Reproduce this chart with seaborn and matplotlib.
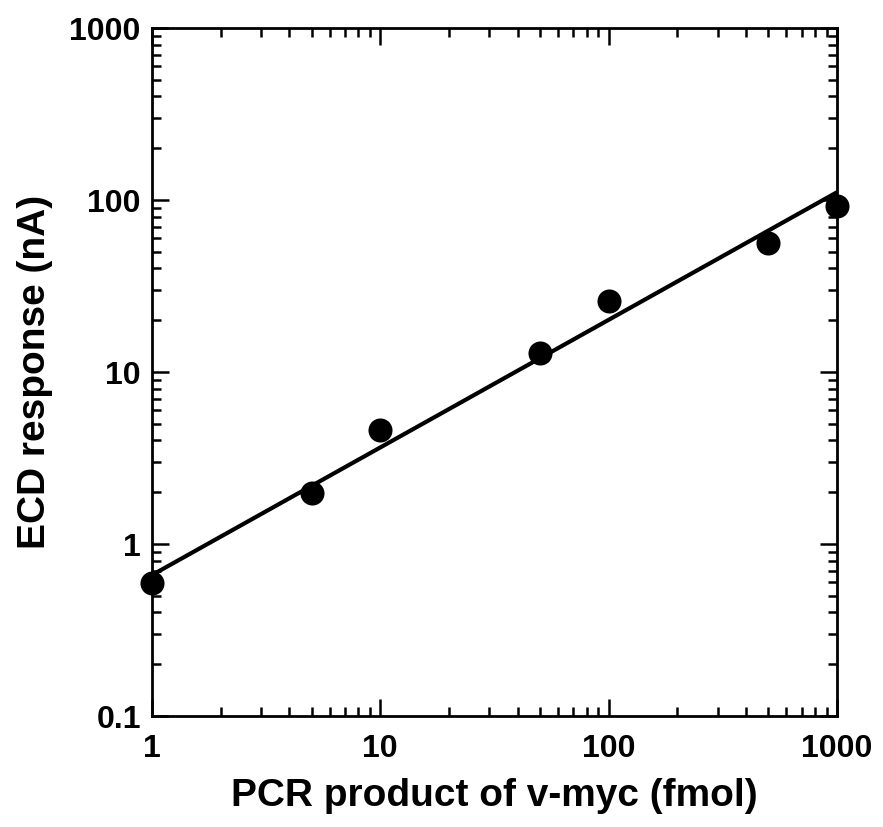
import numpy as np
import pandas as pd
import matplotlib
matplotlib.use("Agg")
import matplotlib.pyplot as plt
import seaborn as sns
from matplotlib.ticker import LogLocator, FixedLocator, FixedFormatter, NullFormatter

# Data
pcr_fmol = [1, 5, 10, 50, 100, 500, 1000]
ecd_nA = [0.59, 1.98, 4.6, 12.9, 25.9, 56, 92]
fit_x = [1, 1000]
fit_y = [0.66, 111]
x_ticks = [1, 10, 100, 1000]
x_labels = ["1", "10", "100", "1000"]
y_ticks = [0.1, 1, 10, 100, 1000]
y_labels = ["0.1", "1", "10", "100", "1000"]

sns.set_theme(style="ticks")
plt.rcParams['font.family'] = ['Liberation Sans', 'DejaVu Sans']
plt.rcParams['font.weight'] = 'bold'
plt.rcParams['text.color'] = 'black'
plt.rcParams['axes.labelcolor'] = 'black'
plt.rcParams['xtick.color'] = 'black'
plt.rcParams['ytick.color'] = 'black'
plt.rcParams['axes.edgecolor'] = 'black'

fig = plt.figure(figsize=(8.83, 8.27), dpi=100)
ax = fig.add_axes([0.1721, 0.1342, 0.7758, 0.8319])

pts = pd.DataFrame({"x": pcr_fmol, "y": ecd_nA})
fit = pd.DataFrame({"x": fit_x, "y": fit_y})

sns.lineplot(data=fit, x="x", y="y", ax=ax, color="black", linewidth=3.0)
sns.scatterplot(data=pts, x="x", y="y", ax=ax, color="black", s=300,
                edgecolor="black", linewidth=0, zorder=3, clip_on=False)

ax.set_xscale("log")
ax.set_yscale("log")
ax.set_xlim(1, 1000)
ax.set_ylim(0.1, 1000)

ax.xaxis.set_major_locator(FixedLocator(x_ticks))
ax.xaxis.set_major_formatter(FixedFormatter(x_labels))
ax.yaxis.set_major_locator(FixedLocator(y_ticks))
ax.yaxis.set_major_formatter(FixedFormatter(y_labels))
ax.xaxis.set_minor_locator(LogLocator(base=10, subs=np.arange(2, 10)))
ax.yaxis.set_minor_locator(LogLocator(base=10, subs=np.arange(2, 10)))
ax.xaxis.set_minor_formatter(NullFormatter())
ax.yaxis.set_minor_formatter(NullFormatter())

for sp in ax.spines.values():
    sp.set_visible(True)
    sp.set_linewidth(2.0)
    sp.set_color("black")

ax.tick_params(which="both", direction="in", top=True, right=True, color="black", width=1.8)
ax.tick_params(which="major", length=12)
ax.tick_params(which="minor", length=6.5)
ax.tick_params(axis="x", which="major", pad=13, labelsize=23, labelcolor="black")
ax.tick_params(axis="y", which="major", pad=8, labelsize=23, labelcolor="black")
for lab in ax.get_xticklabels() + ax.get_yticklabels():
    lab.set_fontweight("bold")

ax.set_xlabel("PCR product of v-myc (fmol)", fontsize=28, fontweight="bold",
              labelpad=10, color="black")
ax.set_ylabel("ECD response (nA)", fontsize=28, fontweight="bold",
              labelpad=12, color="black")
ax.grid(False)

fig.savefig("out.png", dpi=100, facecolor="white")
